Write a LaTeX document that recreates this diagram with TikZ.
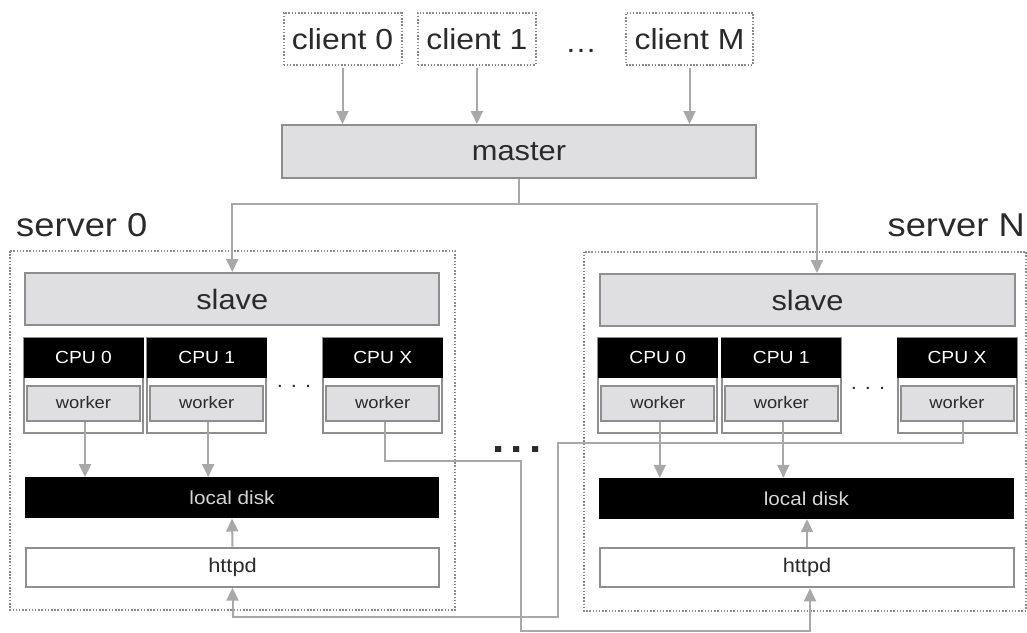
\documentclass[tikz,border=0pt]{standalone}
\usepackage{fontspec}
\setmainfont{Liberation Sans}[FakeStretch=1.1]
\usetikzlibrary{arrows.meta}
\definecolor{boxgray}{HTML}{DFDFE1}
\definecolor{edgegray}{HTML}{8E8E8E}
\definecolor{linegray}{HTML}{A8A8A8}
\definecolor{dotgray}{HTML}{8A8A8A}
\definecolor{txt}{HTML}{2A2A2A}
\definecolor{disktxt}{HTML}{D6D6D6}
\newcommand\fsz[1]{\fontsize{#1}{#1}\selectfont}
\tikzset{
  graybox/.style={draw=edgegray, line width=2pt, fill=boxgray, text=txt, inner sep=0pt},
  dotbox/.style={draw=dotgray, line width=2pt, dash pattern=on 1.5pt off 1.7pt},
  clientbox/.style={dotbox, text=txt, inner sep=0pt, minimum height=52, font=\fsz{29}},
  cpuframe/.style={draw=edgegray, line width=2pt, fill=white, inner sep=0pt, minimum width=119, minimum height=94.8},
  cpuhead/.style={fill=black, text=white, inner sep=0pt, minimum width=120, minimum height=40, font=\fsz{17.5}},
  workerbox/.style={graybox, minimum width=113, minimum height=35, font=\fsz{16.7}},
  diskbox/.style={fill=black, text=disktxt, inner sep=0pt, minimum width=414, minimum height=41, font=\fsz{18.8}},
  httpdbox/.style={draw=edgegray, line width=2pt, fill=white, text=txt, inner sep=0pt, minimum width=413, minimum height=39, font=\fsz{19.8}},
  slavebox/.style={graybox, minimum width=414, minimum height=52, font=\fsz{28}},
  conn/.style={draw=linegray, line width=2pt},
  arr/.style={conn, -{Triangle[length=13pt,width=12pt]}},
  lbl/.style={inner sep=0pt, text=txt},
}
\begin{document}
\begin{tikzpicture}[x=1pt,y=-1pt]
\useasboundingbox (0,0) rectangle (1027,632);
% server frames
\draw[dotbox] (10,251) rectangle (455,610);
\draw[dotbox] (583.5,251.5) rectangle (1026,610.5);
\node[lbl, anchor=base west, font=\fsz{33}] (srv0) at (16,236.7) {server 0};
\node[lbl, anchor=base east, font=\fsz{33}] (srvN) at (1025,236.7) {server N};
% clients
\node[clientbox, minimum width=118] (c0) at (342.5,38.75) {client 0};
\node[clientbox, minimum width=118] (c1) at (476.9,38.75) {client 1};
\node[clientbox, minimum width=127] (cM) at (689.5,38.75) {client M};
\node[lbl, anchor=base, font=\fsz{29}] (cdots) at (581,52) {\ldots};
% master
\node[graybox, minimum width=474, minimum height=53, font=\fsz{28}] (master) at (519,151.5) {master};
% slaves
\node[slavebox] (slaveL) at (232.25,299) {slave};
\node[slavebox, minimum width=415] (slaveR) at (807.5,300) {slave};
% CPUs
\foreach \n/\c/\lab in {L0/83.5/CPU 0, L1/206.7/CPU 1, LX/382.7/CPU X, R0/657.8/CPU 0, R1/781.3/CPU 1, RX/957/CPU X}{
  \node[cpuframe] (f\n) at (\c,385.1) {};
  \node[cpuhead] (h\n) at (\c,357.6) {\lab};
  \node[workerbox] (w\n) at (\c,403) {worker};
}
\node[lbl, font=\fsz{20}] (dotsL) at (294,386) {.\hspace{8pt}.\hspace{8pt}.};
\node[lbl, font=\fsz{20}] (dotsR) at (868,388) {.\hspace{8pt}.\hspace{8pt}.};
\node[lbl, anchor=base, font=\bfseries\fsz{40}] (sdots) at (517,452) {.\hspace{6pt}.\hspace{6pt}.};
% disks and httpd
\node[diskbox] (diskL) at (232,497.8) {local disk};
\node[diskbox, minimum width=415] (diskR) at (806.4,498.5) {local disk};
\node[httpdbox] (httpdL) at (232.5,567.2) {httpd};
\node[httpdbox, minimum width=414] (httpdR) at (807,567.8) {httpd};
% client -> master
\foreach \cl in {c0,c1,cM}{
  \draw[arr, shorten <=2pt] (\cl.south) -- (\cl.south |- master.north);
}
% master -> slaves
\coordinate (mj) at (519,204);
\draw[conn] (master.south) -- (mj);
\draw[arr] (mj) -| (slaveL.north);
\draw[arr] (mj) -| ([xshift=9.5pt]slaveR.north);
% workers -> disks
\draw[arr] ([xshift=1.5pt]wL0.south) -- ([xshift=1.5pt]wL0.south |- diskL.north);
\draw[arr] ([xshift=1.5pt]wL1.south) -- ([xshift=1.5pt]wL1.south |- diskL.north);
\draw[arr] ([xshift=2pt]wR0.south) -- ([xshift=2pt]wR0.south |- diskR.north);
\draw[arr] ([xshift=2pt]wR1.south) -- ([xshift=2pt]wR1.south |- diskR.north);
% httpd -> disks
\draw[arr] (httpdL.north) -- (diskL.south);
\draw[arr] (httpdR.north) -- (httpdR.north |- diskR.south);
% cross links
\coordinate (j1) at (520.6,460.7);
\coordinate (j2) at (520.6,630.5);
\draw[arr] ([xshift=2.5pt]wLX.south) |- (j1) -- (j2) -| ([xshift=3pt]httpdR.south);
\coordinate (k1) at (558,443);
\coordinate (k2) at (558,617.3);
\draw[arr] ([xshift=5.5pt]wRX.south) |- (k1) -- (k2) -| (httpdL.south);
\end{tikzpicture}
\end{document}
